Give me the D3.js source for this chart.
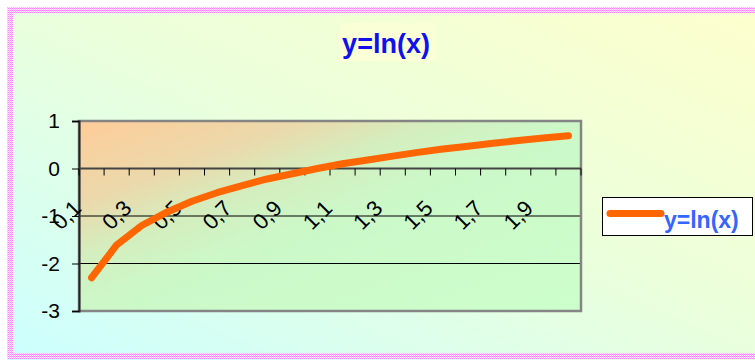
<!DOCTYPE html>
<html>
<head>
<meta charset="utf-8">
<script src="https://cdn.jsdelivr.net/npm/d3@7.9.0/dist/d3.min.js"></script>
<style>
  html, body { margin: 0; padding: 0; background: #fff; }
  svg { display: block; font-family: "Liberation Sans", Arial, sans-serif; }
</style>
</head>
<body>
<svg id="chart" width="755" height="360"></svg>
<script>
// values
const xValues = [0.1, 0.2, 0.3, 0.4, 0.5, 0.6, 0.7, 0.8, 0.9, 1.0,
                 1.1, 1.2, 1.3, 1.4, 1.5, 1.6, 1.7, 1.8, 1.9, 2.0];
const yValues = [-2.30, -1.61, -1.20, -0.92, -0.69, -0.51, -0.36, -0.22, -0.11, 0.00,
                 0.10, 0.18, 0.26, 0.34, 0.41, 0.47, 0.53, 0.59, 0.64, 0.69];
const xLabels = ['0,1', '0,2', '0,3', '0,4', '0,5', '0,6', '0,7', '0,8', '0,9', '1',
                 '1,1', '1,2', '1,3', '1,4', '1,5', '1,6', '1,7', '1,8', '1,9', '2'];
const yTicks = [1, 0, -1, -2, -3];
const yTickLabels = ['1', '0', '-1', '-2', '-3'];
const seriesName = 'y=ln(x)';

const svg = d3.select('#chart');
const defs = svg.append('defs');

// chart background
const bg = defs.append('linearGradient').attr('id', 'bg')
  .attr('x1', 0).attr('y1', 1).attr('x2', 1).attr('y2', 0);
bg.append('stop').attr('offset', 0).attr('stop-color', '#ccffff');
bg.append('stop').attr('offset', 0.5).attr('stop-color', '#eaffdc');
bg.append('stop').attr('offset', 1).attr('stop-color', '#ffffcc');

// plot area fill
const pg = defs.append('linearGradient').attr('id', 'plotbg')
  .attr('x1', 0).attr('y1', 0).attr('x2', 1).attr('y2', 1);
pg.append('stop').attr('offset', 0).attr('stop-color', '#ffcc99');
pg.append('stop').attr('offset', 0.22).attr('stop-color', '#ebd9ab');
pg.append('stop').attr('offset', 0.36).attr('stop-color', '#d4eebe');
pg.append('stop').attr('offset', 0.5).attr('stop-color', '#ccf8c8');
pg.append('stop').attr('offset', 1).attr('stop-color', '#ccffcc');

// pink dithered border
const pat = defs.append('pattern').attr('id', 'dots')
  .attr('width', 2).attr('height', 2).attr('patternUnits', 'userSpaceOnUse');
pat.append('rect').attr('width', 2).attr('height', 2).attr('fill', '#ffe4ff');
pat.append('rect').attr('width', 1).attr('height', 1).attr('fill', '#ff80ff');
pat.append('rect').attr('x', 1).attr('y', 1).attr('width', 1).attr('height', 1).attr('fill', '#ffb8ff');

svg.append('rect').attr('x', 7).attr('y', 7).attr('width', 800).attr('height', 353)
  .attr('fill', 'url(#bg)');
svg.append('rect').attr('x', 10).attr('y', 10).attr('width', 800).attr('height', 346)
  .attr('fill', 'none').attr('stroke', 'url(#dots)').attr('stroke-width', 6);

// title
svg.append('rect').attr('x', 340).attr('y', 23).attr('width', 96).attr('height', 38)
  .attr('fill', '#fbffd6');
svg.append('text').attr('x', 386).attr('y', 53)
  .attr('text-anchor', 'middle').attr('font-size', 27).attr('font-weight', 'bold')
  .attr('fill', '#1010ee').text(seriesName);

const plotLeft = 79, plotRight = 581, plotTop = 121, plotBottom = 311;

const x = d3.scaleBand().domain(xValues).range([plotLeft, plotRight]).padding(0);
const y = d3.scaleLinear().domain([-3, 1]).range([plotBottom, plotTop]);

// plot area
svg.append('rect').attr('x', plotLeft).attr('y', plotTop)
  .attr('width', plotRight - plotLeft).attr('height', plotBottom - plotTop)
  .attr('fill', 'url(#plotbg)');

// gridlines
svg.append('g').selectAll('line').data([-1, -2]).join('line')
  .attr('x1', plotLeft).attr('x2', plotRight)
  .attr('y1', d => y(d)).attr('y2', d => y(d))
  .attr('stroke', '#000').attr('stroke-width', 1);

// frame
svg.append('rect').attr('x', plotLeft).attr('y', plotTop)
  .attr('width', plotRight - plotLeft).attr('height', plotBottom - plotTop)
  .attr('fill', 'none').attr('stroke', '#858585').attr('stroke-width', 2.5);

// y axis
const yAxis = svg.append('g').attr('transform', `translate(${plotLeft},0)`)
  .call(d3.axisLeft(y).tickValues(yTicks).tickSize(7).tickPadding(12)
    .tickFormat(d => yTickLabels[yTicks.indexOf(d)]));
yAxis.select('.domain').attr('stroke', '#222').attr('stroke-width', 2);
yAxis.selectAll('.tick line').attr('stroke', '#000');
yAxis.selectAll('text').attr('font-size', 21).attr('fill', '#000')
  .attr('font-family', '"Liberation Sans", Arial, sans-serif');

// x axis at y=0
const y0 = y(0);
svg.append('line').attr('x1', plotLeft).attr('x2', plotRight).attr('y1', y0).attr('y2', y0)
  .attr('stroke', '#444').attr('stroke-width', 2);
svg.append('g').selectAll('line').data(xValues.concat(['end'])).join('line')
  .attr('x1', d => d === 'end' ? plotRight : x(d))
  .attr('x2', d => d === 'end' ? plotRight : x(d))
  .attr('y1', y0).attr('y2', y0 + 7)
  .attr('stroke', '#000').attr('stroke-width', 1);

svg.append('g').selectAll('text').data(xValues.filter((d, i) => i % 2 === 0)).join('text')
  .attr('transform', d => `translate(${x(d) + x.bandwidth() / 2 - 25},${215}) rotate(-45)`)
  .attr('text-anchor', 'middle').attr('dominant-baseline', 'central')
  .attr('font-size', 22).attr('fill', '#000')
  .text(d => xLabels[xValues.indexOf(d)]);

// series
const line = d3.line()
  .x((d, i) => x(xValues[i]) + x.bandwidth() / 2)
  .y(d => y(d));
svg.append('path').datum(yValues)
  .attr('d', line)
  .attr('fill', 'none').attr('stroke', '#ff6600').attr('stroke-width', 7)
  .attr('stroke-linecap', 'round').attr('stroke-linejoin', 'round');

// legend
const lg = svg.append('g');
lg.append('rect').attr('x', 602.5).attr('y', 197.5).attr('width', 150).attr('height', 38)
  .attr('fill', '#fff').attr('stroke', '#000').attr('stroke-width', 1);
lg.append('line').attr('x1', 610).attr('x2', 661).attr('y1', 213.5).attr('y2', 213.5)
  .attr('stroke', '#ff6600').attr('stroke-width', 7).attr('stroke-linecap', 'round');
lg.append('text').attr('x', 664).attr('y', 228)
  .attr('font-size', 23).attr('font-weight', 'bold').attr('fill', '#3366ff')
  .text(seriesName);
</script>
</body>
</html>
